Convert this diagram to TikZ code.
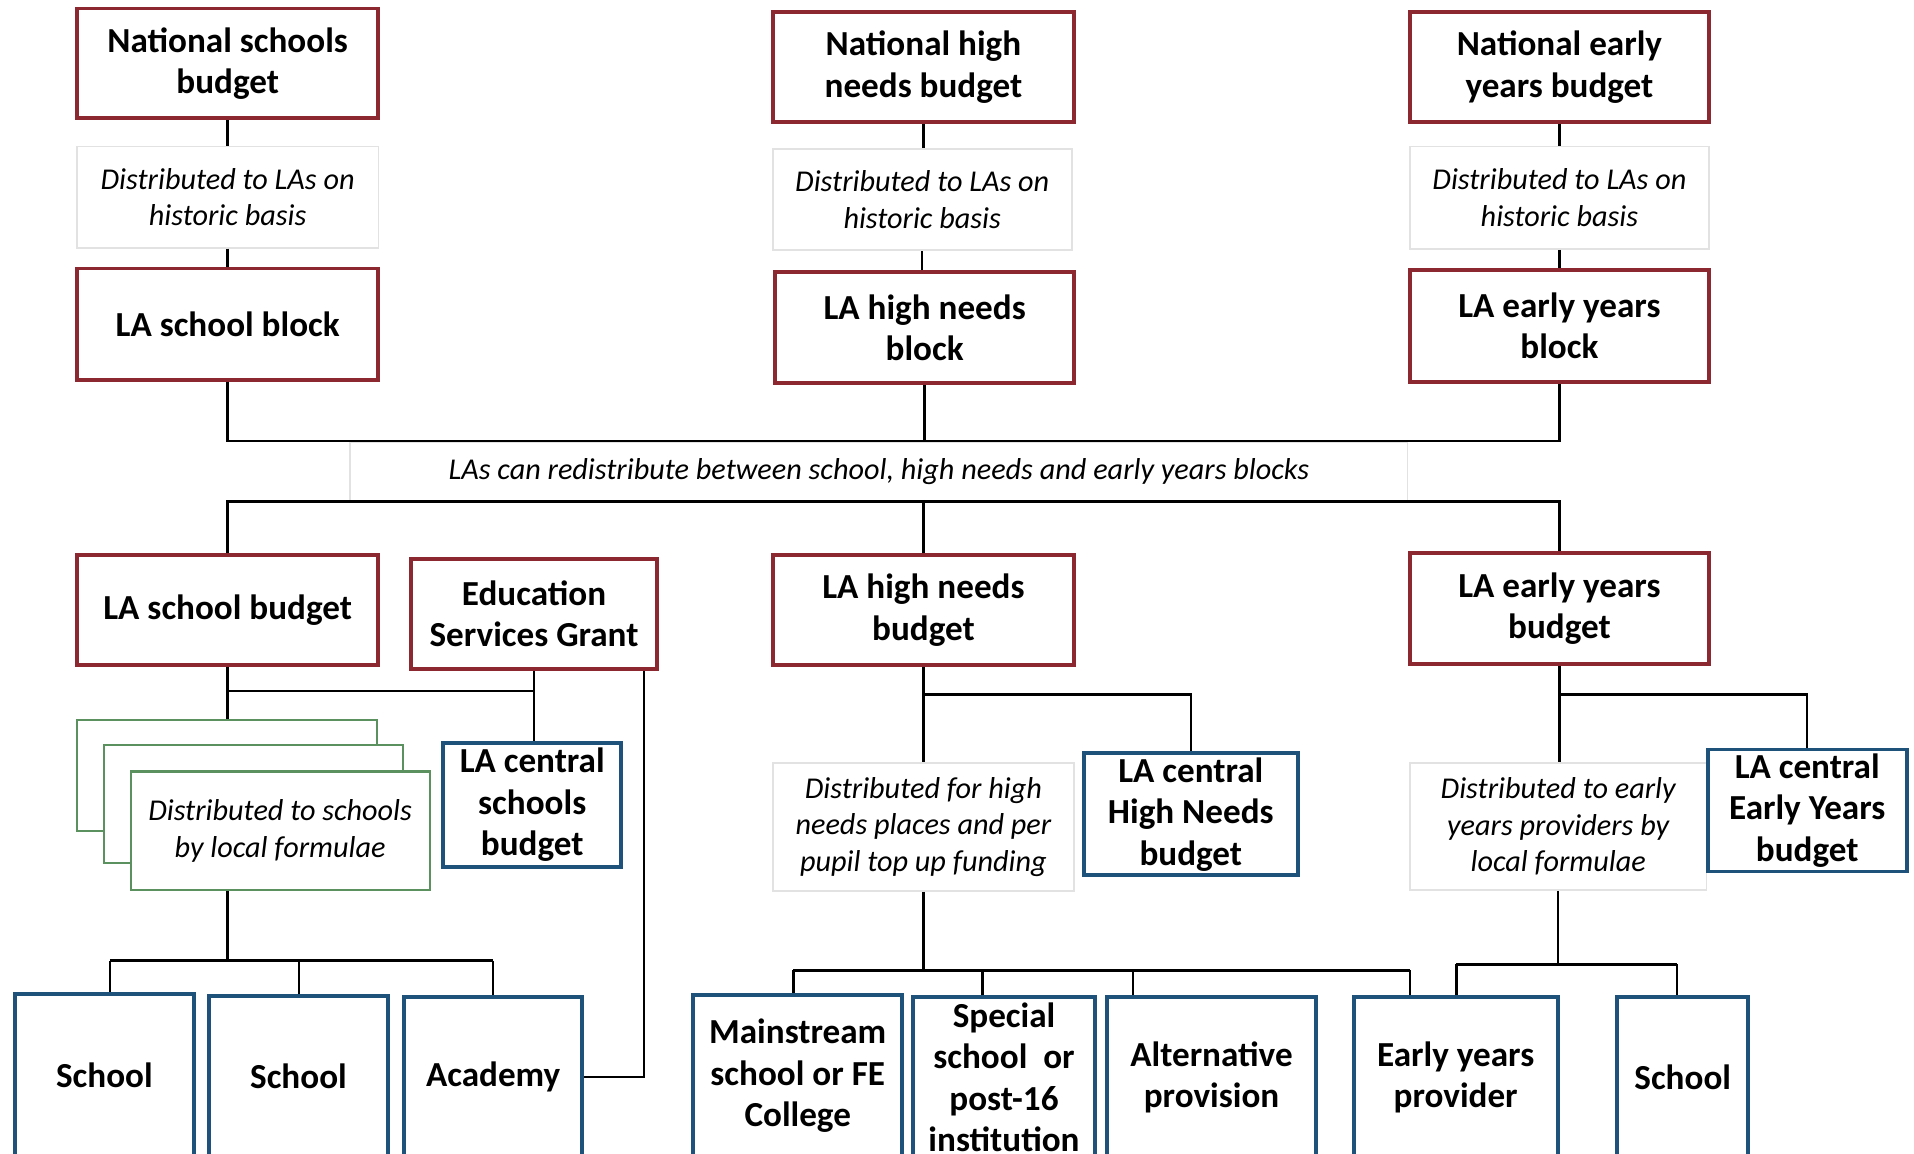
\documentclass[tikz,border=0pt]{standalone}
\usepackage{fontspec}
\setmainfont{Carlito}
\usetikzlibrary{calc}
\definecolor{myred}{RGB}{140,40,48}
\definecolor{myblue}{RGB}{31,82,122}
\definecolor{mygreen}{RGB}{90,145,95}
\definecolor{faint}{RGB}{226,226,226}
\newcommand\boxfont{\fontsize{10}{11.8}\selectfont\bfseries}
\newcommand\notefont{\fontsize{8.6}{10.4}\selectfont\itshape}
% name, style, x1, y1, x2, y2, text
\newcommand\bx[7]{%
  \node[#2, minimum width={(#5-#3)*0.12207mm}, minimum height={(#6-#4)*0.12207mm}]
    (#1) at ({(#3+#5)/2},{(#4+#6)/2}) {#7};}
\tikzset{
  base/.style={rectangle, inner sep=0pt, align=center, fill=white, text=black},
  redbox/.style={base, draw=myred, line width=1.1pt, font=\boxfont},
  bluebox/.style={base, draw=myblue, line width=1.1pt, font=\boxfont},
  notebox/.style={base, draw=faint, line width=0.5pt, font=\notefont},
  greenbox/.style={base, draw=mygreen, line width=0.6pt, font=\notefont},
  conn/.style={draw=black, line width=0.7pt},
}
\begin{document}
\begin{tikzpicture}[x=0.12207mm, y=-0.12207mm]
\useasboundingbox (0,0) rectangle (1568,945);
\clip (0,0) rectangle (1568,945);
\fill[white] (0,0) rectangle (1568,945);

% row 1
\bx{nsb}{redbox}{63}{7}{310}{97}{National schools\\budget}
\bx{nhnb}{redbox}{633}{10}{880}{100}{National high\\needs budget}
\bx{neyb}{redbox}{1155}{10}{1400}{100}{National early\\years budget}
% notes
\bx{d1}{notebox}{63}{120}{310}{203}{Distributed to LAs on\\historic basis}
\bx{d2}{notebox}{633}{122}{878}{205}{Distributed to LAs on\\historic basis}
\bx{d3}{notebox}{1155}{120}{1400}{204}{Distributed to LAs on\\historic basis}
% row 2
\bx{lsblock}{redbox}{63}{220}{310}{311}{LA school block}
\bx{lhnblock}{redbox}{635}{223}{880}{314}{LA high needs\\block}
\bx{leyblock}{redbox}{1155}{221}{1400}{313}{LA early years\\block}
% middle note
\bx{mid}{notebox}{287}{362}{1153}{410}{LAs can redistribute between school, high needs and early years blocks}
% row 3
\bx{lsbud}{redbox}{63}{455}{310}{545}{LA school budget}
\bx{esg}{redbox}{337}{458}{538}{548}{Education\\Services Grant}
\bx{lhnbud}{redbox}{633}{455}{880}{545}{LA high needs\\budget}
\bx{leybud}{redbox}{1155}{453}{1400}{544}{LA early years\\budget}
% stacked boxes
\bx{stackA}{greenbox}{63}{590}{309}{681}{}
\bx{stackB}{greenbox}{85}{610}{330}{707}{}
\bx{stackC}{greenbox}{107}{632}{352}{729}{Distributed to schools\\by local formulae}
\bx{lcsb}{bluebox}{363}{609}{509}{710}{LA central\\schools\\budget}
\bx{d4}{notebox}{633}{625}{880}{730}{Distributed for high\\needs places and per\\pupil top up funding}
\bx{lchn}{bluebox}{888}{617}{1063}{717}{LA central\\High Needs\\budget}
\bx{d5}{notebox}{1155}{625}{1398}{729}{Distributed to early\\years providers by\\local formulae}
\bx{lcey}{bluebox}{1399}{614}{1562}{714}{LA central\\Early Years\\budget}
% bottom row
\bx{sch1}{bluebox}{12}{814}{159}{948}{School}
\bx{sch2}{bluebox}{171}{816}{318}{948}{School}
\bx{acad}{bluebox}{331}{817}{477}{948}{Academy}
\bx{mfe}{bluebox}{568}{815}{739}{948}{Mainstream\\school or FE\\College}
\bx{spec}{bluebox}{748}{817}{897}{948}{Special\\school~ or\\post-16\\institution}
\bx{alt}{bluebox}{907}{817}{1078}{948}{Alternative\\provision}
\bx{eyp}{bluebox}{1109}{817}{1276}{948}{Early years\\provider}
\bx{sch3}{bluebox}{1325}{817}{1432}{948}{School}

% helper coordinates
\coordinate (y566) at (0,566);
\coordinate (y569) at (0,569);
\coordinate (y787) at (0,787);
\coordinate (y795) at (0,795);
\coordinate (y790) at (0,790);
\coordinate (xA) at (90,0);
\coordinate (xB) at (245,0);
\coordinate (xC) at (404,0);
\coordinate (xM) at (650,0);
\coordinate (xS) at (805,0);
\coordinate (xL) at (928,0);
\coordinate (xE) at (1155,0);
\coordinate (xF) at (1193,0);
\coordinate (xG) at (1374,0);

% top connectors
\draw[conn] (nsb.south) -- (nsb.south |- d1.north);
\draw[conn] (d1.south) -- (d1.south |- lsblock.north);
\draw[conn] (nhnb.south) -- (nhnb.south |- d2.north);
\draw[conn] (d2.south) -- (d2.south |- lhnblock.north);
\draw[conn] (neyb.south) -- (neyb.south |- d3.north);
\draw[conn] (d3.south) -- (d3.south |- leyblock.north);
% redistribution buses
\draw[conn] (lsblock.south) |- (leyblock.south |- mid.north) -- (leyblock.south);
\draw[conn] (lhnblock.south) -- (lhnblock.south |- mid.north);
\draw[conn] (lsbud.north) |- (leybud.north |- mid.south) -- (leybud.north);
\draw[conn] (lhnbud.north) -- (lhnbud.north |- mid.south);
% school budget branch
\draw[conn] (lsbud.south) -- (lsbud.south |- stackA.north);
\draw[conn] (lsbud.south |- y566) -| (esg.south);
\draw[conn] (esg.south) -- (esg.south |- lcsb.north);
\draw[conn] ($(esg.south east)+(-12,0)$) |- (acad.east);
\draw[conn] (lsbud.south |- stackC.south) -- (lsbud.south |- y787);
\draw[conn] (xA |- y787) -- (xC |- y787);
\draw[conn] (xA |- y787) -- (xA |- sch1.north);
\draw[conn] (xB |- y787) -- (xB |- sch2.north);
\draw[conn] (xC |- y787) -- (xC |- acad.north);
% high needs branch
\draw[conn] (lhnbud.south) -- (lhnbud.south |- d4.north);
\draw[conn] (lhnbud.south |- y569) -| (lchn.north);
\draw[conn] (d4.south) -- (d4.south |- y795);
\draw[conn] (xM |- y795) -- (xE |- y795);
\draw[conn] (xM |- y795) -- (xM |- mfe.north);
\draw[conn] (xS |- y795) -- (xS |- spec.north);
\draw[conn] (xL |- y795) -- (xL |- alt.north);
\draw[conn] (xE |- y795) -- (xE |- eyp.north);
% early years branch
\draw[conn] (leybud.south) -- (leybud.south |- d5.north);
\draw[conn] (leybud.south |- y569) -| (lcey.north);
\draw[conn] (d5.south) -- (d5.south |- y790);
\draw[conn] (xF |- y790) -- (xG |- y790);
\draw[conn] (xF |- y790) -- (xF |- eyp.north);
\draw[conn] (xG |- y790) -- (xG |- sch3.north);
\end{tikzpicture}
\end{document}
